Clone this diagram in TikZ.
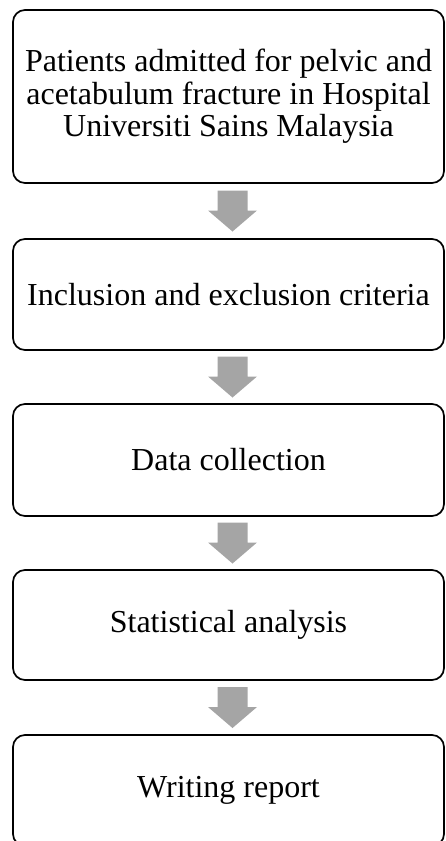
\documentclass[tikz,border=0pt]{standalone}
\usepackage{fontspec}
\setmainfont{Liberation Serif}
\usetikzlibrary{calc}
\definecolor{arrowgray}{HTML}{A5A5A5}
\begin{document}
\begin{tikzpicture}[x=1pt,y=-1pt,
  stepbox/.style={draw=black, line width=1.7pt, rounded corners=12pt, rectangle,
    minimum width=431pt, inner sep=0pt, align=center,
    font=\fontsize{32}{32.5}\selectfont},
  flowarrow/.style={fill=arrowgray, draw=none}]
\useasboundingbox (0,0) rectangle (445,841);
\node[stepbox, minimum height=173pt] (b1) at (228.5,96.5) {Patients admitted for pelvic and\\acetabulum fracture in Hospital\\Universiti Sains Malaysia};
\node[stepbox, minimum height=111pt] (b2) at (228.5,294.5) {Inclusion and exclusion criteria};
\node[stepbox, minimum height=112pt] (b3) at (228.5,460) {Data collection};
\node[stepbox, minimum height=110pt] (b4) at (228.5,625) {Statistical analysis};
\node[stepbox, minimum height=111pt] (b5) at (228.5,790.5) {Writing report};
\foreach \a/\b in {b1/b2,b2/b3,b3/b4,b4/b5}{
  \coordinate (m) at ($(\a.south)!0.5!(\b.north)+(4,0)$);
  \path[flowarrow] ($(m)+(-15,-20.5)$) -- ($(m)+(15,-20.5)$) -- ($(m)+(15,-0.5)$)
    -- ($(m)+(24.5,-0.5)$) -- ($(m)+(0,20.5)$) -- ($(m)+(-24.5,-0.5)$)
    -- ($(m)+(-15,-0.5)$) -- cycle;
}
\end{tikzpicture}
\end{document}
